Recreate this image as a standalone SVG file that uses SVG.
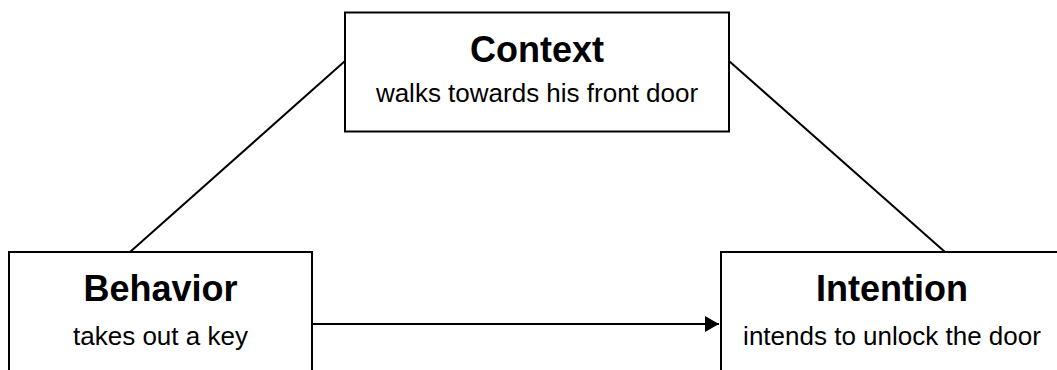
<svg xmlns="http://www.w3.org/2000/svg" width="1057" height="370" viewBox="0 0 1057 370">
  <style>
    .box { fill: #ffffff; stroke: #000000; stroke-width: 2; }
    .edge { fill: none; stroke: #000000; stroke-width: 2; }
    .title { font-family: "Liberation Sans", Arial, sans-serif; font-weight: bold; font-size: 36px; text-anchor: middle; fill: #000000; }
    .sub { font-family: "Liberation Sans", Arial, sans-serif; font-size: 26px; text-anchor: middle; fill: #000000; }
  </style>
  <defs>
    <marker id="arrow" markerUnits="userSpaceOnUse" markerWidth="16" markerHeight="18" refX="14" refY="8" orient="auto">
      <path d="M0,0 L14,8 L0,16 Z" fill="#000000"/>
    </marker>
  </defs>
  <rect width="1057" height="370" fill="#ffffff"/>

  <!-- connectors -->
  <g id="connectors">
    <line class="edge" x1="130" y1="252" x2="345" y2="61"/>
    <line class="edge" x1="729" y1="61" x2="945" y2="252"/>
    <line class="edge" x1="312" y1="324" x2="719" y2="324" marker-end="url(#arrow)"/>
  </g>

  <!-- Context node -->
  <g id="context">
    <rect class="box" x="345" y="12.5" width="384" height="119"/>
    <text class="title" x="537" y="62">Context</text>
    <text class="sub" x="537" y="102">walks towards his front door</text>
  </g>

  <!-- Behavior node -->
  <g id="behavior">
    <rect class="box" x="9" y="252" width="303" height="140"/>
    <text class="title" x="160.5" y="301">Behavior</text>
    <text class="sub" x="160.5" y="345">takes out a key</text>
  </g>

  <!-- Intention node -->
  <g id="intention">
    <rect class="box" x="721" y="252" width="342" height="140"/>
    <text class="title" x="892" y="301">Intention</text>
    <text class="sub" x="892" y="345">intends to unlock the door</text>
  </g>
</svg>
